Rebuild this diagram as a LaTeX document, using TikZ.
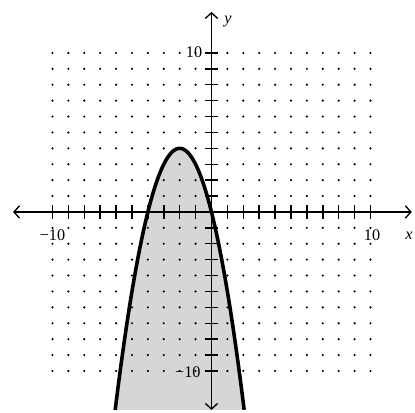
\documentclass[tikz,border=0pt]{standalone}
\usepackage{fontspec}
\setmainfont{Liberation Serif}
\usepackage{tikz}
\usetikzlibrary{arrows.meta}
\begin{document}
\begin{tikzpicture}[x=0.5cm,y=0.5cm,every node/.style={font=\fontsize{14.5}{16}\selectfont},
  axis/.style={line width=1.5pt,{Straight Barb[length=5pt,width=11pt,line width=1.2pt]}-{Straight Barb[length=5pt,width=11pt,line width=1.2pt]}},
  tickmark/.style={line width=1.3pt},
  curve/.style={line width=3.2pt,line join=round},
  region/.style={fill=black!16}]
\useasboundingbox (-13.3,-12.64) rectangle (12.8,13.33);
\coordinate (xl) at (-12.48,0);
\coordinate (xr) at (12.6,0);
\coordinate (yb) at (0,-12.45);
\coordinate (yt) at (0,12.58);
\fill[region] plot[domain=-6.056:2.056,samples=100] (\x,{-\x*\x-4*\x}) -- cycle;
\foreach \i in {-10,...,-1,1,2,...,10}
  \foreach \j in {-10,...,-1,1,2,...,10}
    \fill (\i,\j) circle (0.075);
\foreach \i in {-10,...,-1,1,2,...,10} {
  \draw[tickmark] (\i,-0.42) -- (\i,0.42);
  \draw[tickmark] (-0.42,\i) -- (0.42,\i);
}
\draw[axis] (xl) -- (xr);
\draw[axis] (yb) -- (yt);
\draw[curve] plot[domain=-6.056:2.056,samples=100] (\x,{-\x*\x-4*\x});
\node (ylab) at (1.04,11.95) {\textit{y}};
\node (xlab) at (12.42,-1.5) {\textit{x}};
\node (xmin) at (-10,-1.45) {−10};
\node (xmax) at (10.1,-1.45) {10};
\node[anchor=east,inner sep=1pt] (ymax) at (-0.5,10.06) {10};
\node[anchor=east,inner sep=1pt] (ymin) at (-0.6,-10.06) {−10};
\end{tikzpicture}
\end{document}
